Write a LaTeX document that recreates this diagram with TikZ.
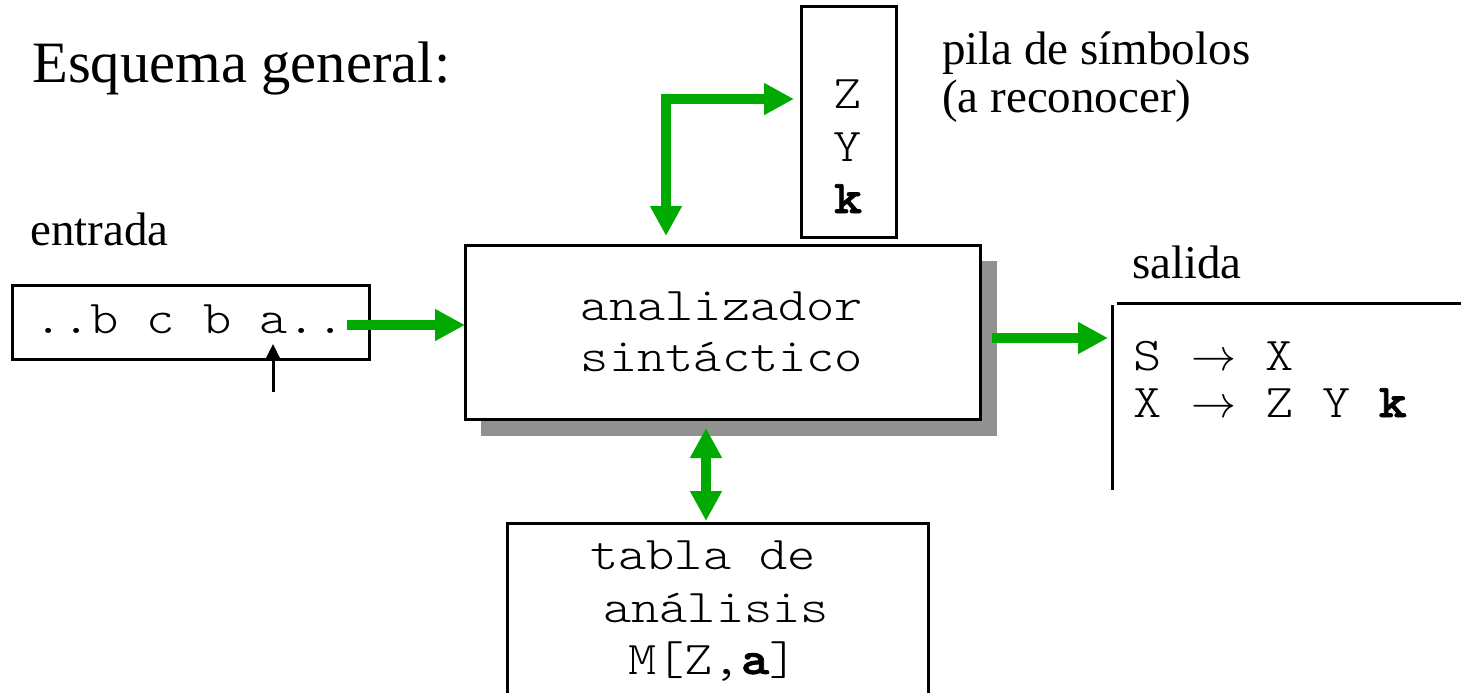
\documentclass[tikz,border=0pt]{standalone}
\usepackage{fontspec}
\usepackage{graphicx}
\setmainfont{Liberation Serif}
\setmonofont{lmmonolt10-regular.otf}[BoldFont=lmmonolt10-bold.otf,BoldFeatures={FakeBold=1.5},FakeStretch=1.143]
\usetikzlibrary{arrows.meta,calc}
\definecolor{flowgreen}{RGB}{0,170,0}
\definecolor{shadowgray}{RGB}{145,145,145}
\newcommand{\prodarrow}{\makebox[48pt][c]{\scalebox{4.5}{\fontsize{10}{12}\selectfont$\rightarrow$}}}
\begin{document}
\begin{tikzpicture}[x=1pt,y=-1pt,
  box/.style={draw=black,line width=3pt,fill=white,inner sep=0pt,outer sep=0pt},
  mono/.style={font=\fontsize{47}{52}\selectfont\ttfamily,inner sep=0pt,anchor=base west},
  serif/.style={font=\fontsize{47}{52}\selectfont,inner sep=0pt,anchor=base west},
  flow/.style={draw=flowgreen,line width=10pt,line join=miter,-{Triangle[width=30pt,length=30pt]}},
  flowboth/.style={draw=flowgreen,line width=10pt,line join=miter,{Triangle[width=30pt,length=30pt]}-{Triangle[width=30pt,length=30pt]}},
  pointer/.style={draw=black,line width=3pt,-{Triangle[width=13pt,length=14pt]}},
  rule/.style={draw=black,line width=3pt}
]
\useasboundingbox (0,0) rectangle (1461,693);

% title and labels
\node[serif,font=\fontsize{58.6}{64}\selectfont] (title) at (32,82) {Esquema general:};
\node[serif] (entrada) at (30,245) {entrada};
\node[serif] (pilaA) at (942,65) {pila de símbolos};
\node[serif] (pilaB) at (942,112) {(a reconocer)};
\node[serif] (salida) at (1132,278) {salida};

% input tape
\node[box,minimum width=357pt,minimum height=74pt] (inbox) at (190.5,322) {};
\node[mono] (intext) at (34,333) {..b c b a..};
\coordinate (ptrTail) at (273,392);
\coordinate (ptrHead) at (273,344);
\draw[pointer] (ptrTail) -- (ptrHead);

% main box with shadow
\node[fill=shadowgray,inner sep=0pt,outer sep=0pt,minimum width=516pt,minimum height=175pt] (mainshadow) at (739,348.5) {};
\node[box,minimum width=515pt,minimum height=174pt] (mainbox) at (722.5,332) {};
\node[mono,anchor=base] (mainA) at (722,320) {analizador};
\node[mono,anchor=base] (mainB) at (722,371) {sintáctico};

% stack
\node[box,minimum width=95pt,minimum height=230pt] (stack) at (848.5,122) {};
\node[mono,anchor=base] (stZ) at (848,108) {Z};
\node[mono,anchor=base] (stY) at (848,161) {Y};
\node[mono,anchor=base] (stK) at (848,213) {\textbf{k}};

% table
\node[box,minimum width=421pt,minimum height=187pt] (table) at (717.5,616.5) {};
\node[mono] (tabA) at (590,569) {tabla de};
\node[mono] (tabB) at (603,622) {análisis};
\node[mono] (tabC) at (628,674) {M[Z,\textbf{a}]};

% output
\coordinate (outTL) at (1117,303);
\coordinate (outTR) at (1461,303);
\coordinate (outVT) at (1112,305);
\coordinate (outVB) at (1112,490);
\draw[rule] (outTL) -- (outTR);
\draw[rule] (outVT) -- (outVB);
\node[mono] (rule1) at (1133,370) {S \prodarrow{} X};
\node[mono] (rule2) at (1133,417) {X \prodarrow{} Z Y \textbf{k}};

% connectors
\coordinate (inStart) at (347,325);
\draw[flow] (inStart) -- (inStart -| mainbox.west);
\coordinate (elbow) at (666,99);
\draw[flowboth,shorten <=9pt,shorten >=7pt] (elbow |- mainbox.north) -- (elbow) -- (elbow -| stack.west);
\coordinate (outStart) at (992,338);
\draw[flow,shorten >=4pt] (outStart) -- (outStart -| outVT);
\coordinate (tblX) at (706,0);
\draw[flowboth,shorten <=9pt,shorten >=2pt] (tblX |- mainbox.south) -- (tblX |- table.north);
\end{tikzpicture}
\end{document}
